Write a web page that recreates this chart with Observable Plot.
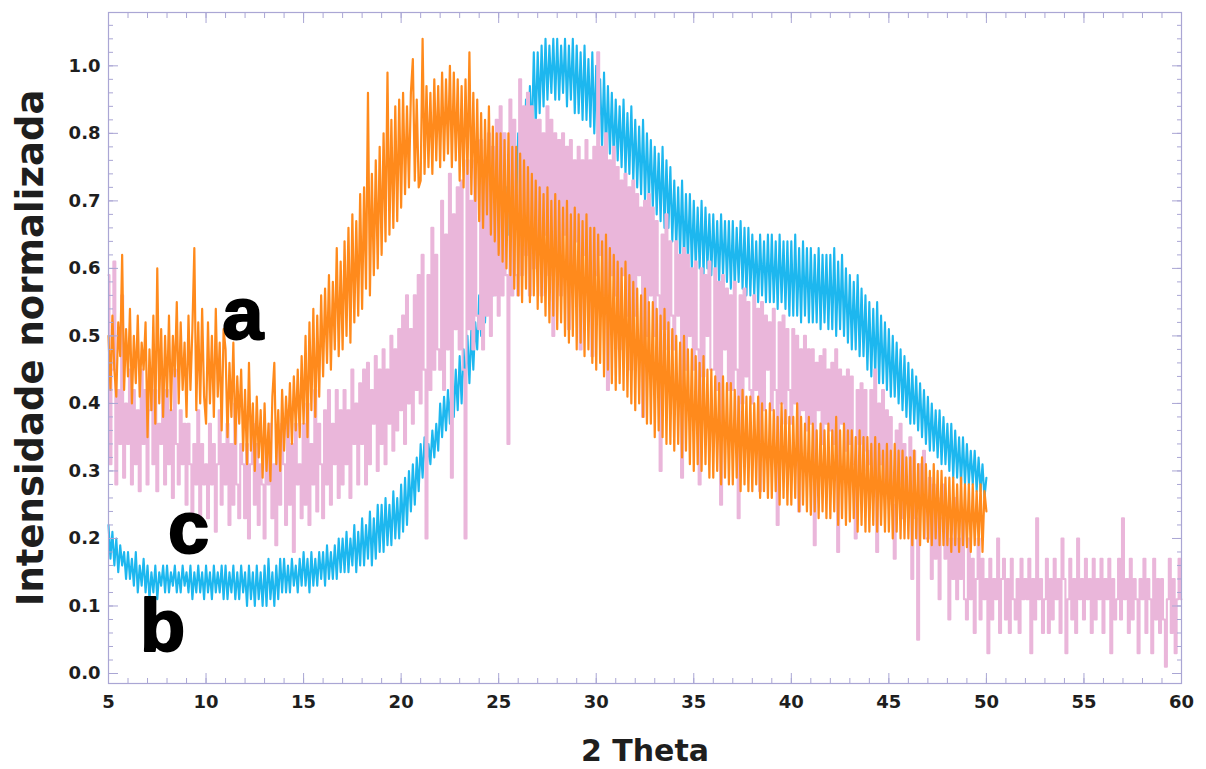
<!DOCTYPE html>
<html>
<head>
<meta charset="utf-8">
<script src="https://cdn.jsdelivr.net/npm/d3@7"></script>
<script src="https://cdn.jsdelivr.net/npm/@observablehq/plot@0.6"></script>
<style>
  html, body { margin: 0; padding: 0; background: #ffffff; }
  #chart { width: 1206px; height: 769px; }
</style>
</head>
<body>
<div id="chart"></div>
<script>
// ---- data ----
const scanStart = 5;      // 2θ of first sample
const scanStep = 0.1;     // 2θ step between samples

// sample a (orange), 5°–50°
const seriesA = [
  .50,.42,.53,.45,.41,.52,.47,.62,.42,.51, .44,.54,.40,.50,.43,.53,.41,.49,.45,.52,
  .35,.48,.39,.53,.37,.60,.40,.51,.38,.50, .41,.53,.39,.50,.44,.55,.40,.52,.42,.49,
  .38,.53,.42,.51,.63,.39,.52,.40,.54,.41, .37,.52,.40,.50,.38,.54,.41,.49,.36,.51,
  .48,.35,.46,.38,.49,.34,.44,.37,.45,.33, .42,.31,.46,.33,.40,.30,.41,.32,.39,.29,
  .40,.30,.37,.285,.41,.46,.31,.39,.30,.42, .33,.41,.35,.43,.34,.44,.36,.45,.35,.47,
  .37,.50,.35,.52,.39,.54,.38,.53,.41,.56, .44,.57,.46,.59,.45,.58,.48,.63,.47,.61,
  .48,.64,.50,.66,.49,.68,.52,.67,.53,.71, .54,.72,.57,.86,.56,.74,.59,.76,.60,.78,
  .62,.80,.64,.89,.65,.82,.66,.84,.67,.85, .69,.86,.71,.84,.72,.86,.91,.73,.85,.72,
  .73,.94,.74,.87,.75,.86,.74,.88,.76,.87, .75,.89,.76,.88,.77,.90,.75,.89,.76,.88,
  .73,.87,.72,.88,.74,.92,.71,.86,.70,.85, .67,.83,.66,.82,.68,.84,.65,.81,.64,.80,
  .62,.80,.61,.79,.60,.80,.59,.78,.57,.78, .56,.77,.55,.76,.57,.75,.55,.74,.56,.73,
  .54,.72,.55,.71,.53,.72,.52,.70,.53,.71, .51,.70,.52,.69,.50,.70,.49,.68,.50,.69,
  .48,.68,.49,.67,.47,.68,.48,.66,.46,.66, .45,.65,.46,.64,.44,.65,.45,.63,.43,.62,
  .42,.61,.43,.60,.42,.61,.41,.59,.40,.58, .39,.57,.40,.56,.38,.57,.37,.55,.37,.55,
  .35,.54,.36,.53,.35,.54,.34,.52,.34,.51, .33,.50,.34,.49,.32,.50,.33,.48,.31,.48,
  .30,.47,.31,.46,.30,.47,.31,.45,.29,.45, .29,.44,.30,.43,.28,.44,.29,.43,.28,.43,
  .28,.42,.29,.41,.27,.42,.28,.41,.27,.41, .27,.40,.28,.41,.26,.40,.27,.39,.26,.40,
  .26,.39,.27,.38,.25,.40,.26,.39,.25,.38, .25,.38,.26,.40,.24,.38,.25,.37,.24,.38,
  .235,.37,.24,.36,.23,.37,.24,.36,.23,.37, .23,.36,.24,.38,.22,.36,.23,.37,.22,.36,
  .225,.36,.23,.35,.21,.36,.22,.35,.21,.35, .21,.34,.22,.35,.21,.34,.22,.33,.21,.34,
  .21,.33,.20,.34,.21,.33,.20,.33,.20,.32, .20,.32,.19,.33,.20,.31,.19,.32,.20,.31,
  .195,.30,.19,.31,.20,.30,.19,.30,.19,.29, .19,.29,.18,.29,.19,.28,.18,.29,.19,.28,
  .187,.28,.18,.28,.19,.27,.19,.28,.18,.27,
  .24
];

// sample b (blue), 5°–50°
const seriesB = [
  .22,.17,.21,.16,.20,.15,.19,.16,.18,.14, .18,.14,.17,.13,.18,.12,.16,.13,.17,.12,
  .16,.11,.15,.12,.16,.11,.15,.13,.16,.12, .16,.12,.15,.13,.16,.12,.15,.12,.16,.13,
  .15,.12,.16,.11,.15,.12,.16,.12,.15,.11, .16,.12,.15,.11,.16,.12,.15,.12,.16,.11,
  .16,.11,.15,.12,.16,.11,.15,.11,.16,.12, .15,.10,.16,.11,.15,.10,.16,.11,.15,.10,
  .16,.10,.17,.11,.15,.10,.16,.11,.17,.12, .17,.12,.16,.12,.17,.13,.16,.12,.17,.13,
  .18,.13,.17,.12,.18,.13,.17,.13,.18,.14, .18,.13,.19,.14,.18,.14,.19,.14,.20,.15,
  .20,.15,.21,.15,.20,.16,.22,.15,.21,.16, .23,.16,.22,.17,.24,.16,.23,.17,.25,.18,
  .25,.18,.26,.19,.25,.19,.27,.20,.26,.20, .28,.21,.29,.22,.30,.24,.31,.25,.32,.27,
  .34,.29,.35,.30,.34,.31,.36,.32,.37,.33, .40,.35,.41,.36,.42,.37,.44,.38,.45,.39,
  .47,.40,.48,.42,.50,.43,.51,.45,.52,.48, .56,.50,.58,.52,.60,.54,.62,.56,.64,.58,
  .68,.60,.70,.63,.72,.65,.74,.67,.76,.70, .80,.72,.83,.75,.85,.77,.87,.79,.92,.81,
  .92,.83,.93,.84,.94,.85,.93,.86,.94,.85, .94,.85,.93,.86,.94,.84,.93,.85,.94,.83,
  .93,.83,.92,.82,.93,.82,.91,.81,.92,.80, .90,.79,.88,.78,.89,.77,.87,.77,.86,.76,
  .85,.76,.84,.75,.85,.74,.83,.74,.84,.73, .82,.72,.81,.71,.82,.70,.80,.70,.79,.69,
  .78,.68,.77,.67,.78,.66,.76,.66,.75,.64, .73,.63,.72,.62,.73,.61,.71,.61,.71,.60,
  .70,.60,.69,.60,.70,.59,.69,.60,.68,.59, .68,.59,.67,.58,.68,.59,.67,.58,.67,.57,
  .67,.57,.66,.58,.67,.57,.66,.56,.66,.56, .65,.56,.64,.55,.65,.56,.64,.55,.65,.55,
  .65,.55,.64,.54,.65,.55,.64,.54,.64,.53, .64,.53,.65,.53,.63,.52,.64,.53,.63,.52,
  .63,.52,.62,.52,.63,.51,.62,.52,.62,.51, .62,.51,.63,.50,.61,.51,.62,.50,.60,.49,
  .59,.48,.58,.48,.59,.47,.57,.47,.56,.45, .55,.44,.54,.44,.55,.43,.53,.43,.52,.42,
  .51,.41,.50,.41,.49,.40,.48,.39,.47,.38, .46,.37,.45,.37,.44,.36,.43,.35,.42,.34,
  .41,.33,.40,.33,.39,.32,.39,.31,.38,.31, .37,.30,.37,.29,.36,.29,.35,.28,.35,.28,
  .34,.28,.33,.28,.33,.27,.32,.27,.31,.26,
  .29
];

// sample c (pink), 5°–60°
const seriesC = [
  .59,.31,.45,.61,.28,.42,.34,.56,.29,.40, .34,.45,.28,.42,.31,.39,.27,.45,.34,.42,
  .28,.39,.45,.31,.42,.27,.37,.34,.45,.28, .42,.31,.39,.26,.45,.34,.28,.39,.31,.37,
  .25,.37,.31,.23,.34,.28,.39,.22,.34,.28, .31,.23,.37,.28,.34,.21,.31,.39,.25,.34,
  .28,.37,.22,.34,.25,.40,.28,.23,.34,.31, .23,.34,.20,.31,.37,.25,.34,.22,.31,.28,
  .20,.34,.28,.37,.23,.31,.19,.34,.25,.37, .31,.22,.39,.25,.34,.18,.37,.28,.31,.23,
  .37,.25,.40,.22,.34,.28,.42,.24,.37,.31, .23,.39,.28,.42,.25,.37,.31,.42,.26,.39,
  .28,.42,.31,.39,.26,.45,.34,.40,.28,.43, .34,.45,.28,.46,.31,.42,.37,.47,.30,.45,
  .34,.48,.31,.45,.37,.50,.33,.48,.36,.51, .39,.53,.34,.56,.40,.51,.37,.56,.42,.59,
  .40,.62,.45,.20,.59,.42,.66,.45,.62,.48, .45,.70,.42,.65,.48,.74,.29,.68,.51,.72,
  .48,.73,.45,.20,.76,.51,.70,.48,.76,.53, .51,.79,.48,.76,.53,.80,.50,.78,.56,.82,
  .53,.84,.56,.80,.59,.34,.85,.56,.82,.59, .56,.88,.59,.84,.62,.86,.56,.84,.60,.82,
  .62,.82,.56,.80,.65,.84,.59,.82,.50,.80, .62,.79,.56,.80,.65,.78,.51,.79,.60,.76,
  .64,.78,.48,.76,.62,.79,.56,.76,.47,.78, .59,.92,.62,.78,.56,.80,.42,.76,.59,.78,
  .56,.75,.48,.73,.59,.74,.53,.72,.45,.73, .53,.71,.59,.69,.38,.70,.50,.71,.56,.69,
  .50,.67,.56,.30,.65,.51,.68,.48,.64,.53, .48,.64,.53,.62,.29,.63,.45,.62,.50,.60,
  .45,.61,.48,.28,.60,.44,.59,.50,.61,.45, .45,.60,.42,.58,.25,.59,.48,.57,.42,.56,
  .42,.58,.45,.23,.56,.40,.57,.44,.55,.42, .40,.56,.42,.54,.27,.55,.39,.53,.45,.52,
  .39,.54,.42,.22,.52,.40,.53,.37,.51,.42, .37,.51,.40,.50,.24,.48,.39,.50,.36,.48,
  .37,.48,.19,.46,.39,.47,.34,.48,.37,.45, .36,.46,.34,.48,.18,.45,.37,.44,.33,.45,
  .34,.44,.31,.20,.42,.34,.43,.30,.42,.33, .31,.42,.28,.45,.18,.40,.31,.42,.28,.39,
  .28,.38,.25,.17,.36,.28,.37,.23,.34,.27, .25,.35,.14,.33,.23,.05,.31,.25,.33,.20,
  .20,.29,.14,.28,.17,.26,.11,.23,.28,.17, .23,.08,.20,.14,.26,.11,.20,.14,.23,.11,
  .08,.20,.11,.17,.06,.14,.20,.08,.17,.11, .14,.03,.17,.08,.14,.11,.20,.06,.14,.17,
  .08,.14,.06,.17,.11,.08,.14,.06,.17,.11, .14,.11,.17,.03,.14,.08,.23,.11,.14,.06,
  .11,.17,.06,.14,.08,.17,.11,.14,.06,.20, .14,.03,.11,.17,.08,.14,.06,.20,.11,.14,
  .08,.17,.11,.14,.06,.17,.08,.14,.11,.17, .06,.14,.11,.17,.03,.14,.08,.11,.17,.08,
  .23,.11,.14,.06,.17,.08,.14,.11,.03,.14, .11,.17,.06,.14,.11,.03,.17,.08,.14,.06,
  .14,.08,.01,.11,.17,.06,.14,.03,.11,.17,
  .11
];

// curve labels
const labelText = ["a", "b", "c"];
const labelX = [11.88, 7.77, 9.10];
const labelY = [0.496, 0.034, 0.179];

// axes
const xMajor = [5, 10, 15, 20, 25, 30, 35, 40, 45, 50, 55, 60];
const xMinor = d3.range(5, 61, 1);
const yMajor = [0, 0.1, 0.2, 0.3, 0.4, 0.5, 0.6, 0.7, 0.8, 0.9];
const yMajorLabels = ["0.0", "0.1", "0.2", "0.3", "0.4", "0.5", "0.6", "0.7", "0.8", "1.0"];
const yMinor = d3.range(0, 0.97, 0.02);

// ---- tables ----
const toRows = (vals, name) => vals.map((v, i) => ({x: scanStart + i * scanStep, y: v, s: name}));
const rowsA = toRows(seriesA, "a");
const rowsB = toRows(seriesB, "b");
const rowsC = toRows(seriesC, "c");
const labels = labelText.map((t, i) => ({t, x: labelX[i], y: labelY[i]}));

const lav = "#aaa6d4";
const txt = "#1e1e1e";
const fontAxis = "DejaVu Sans";
const blank = () => "";

const chart = Plot.plot({
  width: 1206,
  height: 769,
  marginLeft: 108,
  marginRight: 25,
  marginTop: 12,
  marginBottom: 86,
  style: {background: "#ffffff", fontFamily: fontAxis},
  x: {domain: [5, 60], axis: null},
  y: {domain: [-0.0148, 0.979], axis: null},
  marks: [
    // series (blue underneath, pink, orange on top)
    Plot.line(rowsB, {x: "x", y: "y", stroke: "#1db7ef", strokeWidth: 2.1}),
    Plot.line(rowsC, {x: "x", y: "y", stroke: "#eab6da", strokeWidth: 2.1, curve: "step"}),
    Plot.line(rowsA, {x: "x", y: "y", stroke: "#ff8a1c", strokeWidth: 2.2}),
    Plot.frame({stroke: lav, strokeWidth: 1.2}),
    // minor and major ticks (inward, all sides)
    Plot.axisX(xMinor, {anchor: "bottom", tickSize: -5, stroke: lav, tickFormat: blank, label: null}),
    Plot.axisX(xMinor, {anchor: "top", tickSize: -5, stroke: lav, tickFormat: blank, label: null}),
    Plot.axisX(xMajor, {anchor: "bottom", tickSize: -10, stroke: lav, tickFormat: blank, label: null}),
    Plot.axisX(xMajor, {anchor: "top", tickSize: -10, stroke: lav, tickFormat: blank, label: null}),
    Plot.axisY(yMinor, {anchor: "left", tickSize: -5, stroke: lav, tickFormat: blank, label: null}),
    Plot.axisY(yMinor, {anchor: "right", tickSize: -5, stroke: lav, tickFormat: blank, label: null}),
    Plot.axisY(yMajor, {anchor: "left", tickSize: -10, stroke: lav, tickFormat: blank, label: null}),
    Plot.axisY(yMajor, {anchor: "right", tickSize: -10, stroke: lav, tickFormat: blank, label: null}),
    // tick labels
    Plot.axisX(xMajor, {anchor: "bottom", tickSize: 0, tickPadding: 12, fontSize: 18, fontWeight: "bold", fill: txt, fontFamily: fontAxis, label: null}),
    Plot.axisY(yMajor, {anchor: "left", tickSize: 0, tickPadding: 8, fontSize: 18, fontWeight: "bold", fill: txt, fontFamily: fontAxis, label: null,
      tickFormat: d => yMajorLabels[yMajor.indexOf(d)]}),
    // curve labels
    Plot.text(labels, {x: "x", y: "y", text: "t", fontSize: 74, fontWeight: "bold", fontFamily: "Liberation Sans",
      fill: "#000", stroke: "#000", strokeWidth: 2, lineAnchor: "bottom", textAnchor: "middle"}),
    // axis titles
    Plot.text(["2 Theta"], {frameAnchor: "bottom", dy: 77, lineAnchor: "bottom", textAnchor: "middle",
      fontSize: 30, fontWeight: "bold", fill: txt, fontFamily: fontAxis}),
    Plot.text(["Intensidade normalizada"], {frameAnchor: "left", dx: -66, rotate: -90, lineAnchor: "bottom", textAnchor: "middle",
      fontSize: 37, fontWeight: "bold", fill: txt, fontFamily: fontAxis})
  ]
});
document.getElementById("chart").appendChild(chart);
</script>
</body>
</html>
